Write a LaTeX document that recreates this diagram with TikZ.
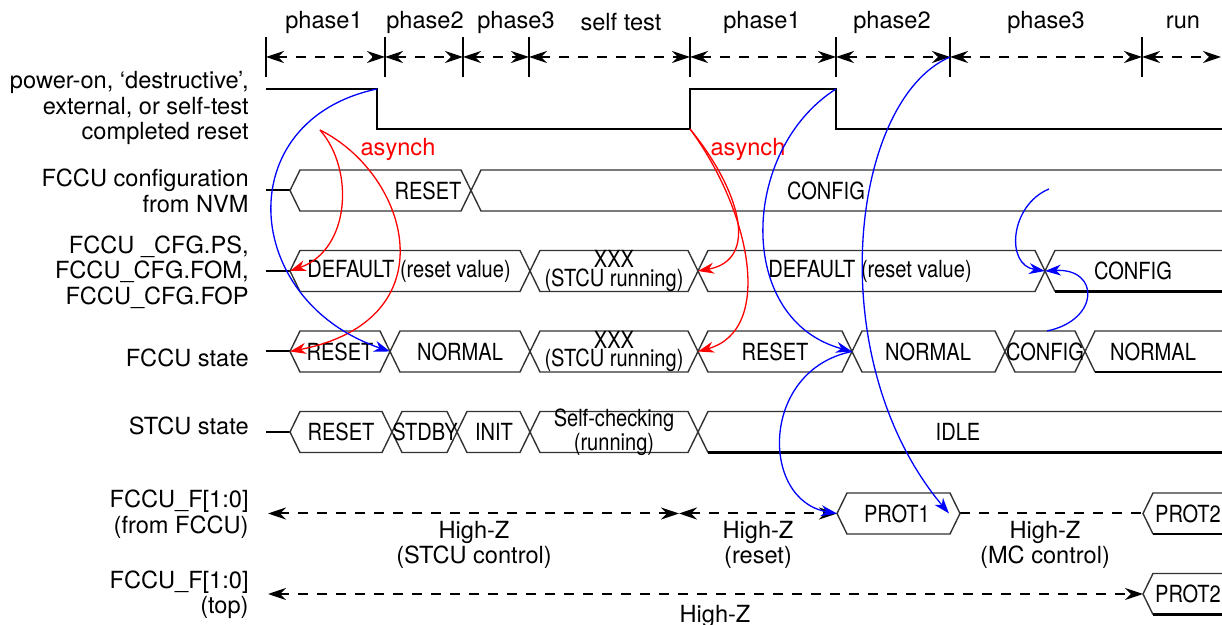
\documentclass[tikz,border=0pt]{standalone}
\usepackage{fontspec}
\setmainfont{TeX Gyre Heros}
\newfontfamily\narrowfont[FakeStretch=0.85]{TeX Gyre Heros}
\usetikzlibrary{arrows.meta,calc}

\begin{document}
\begin{tikzpicture}[x=0.5pt,y=-0.5pt,font=\fontsize{11.8}{12.75}\selectfont]

		\def\hw{10}
		\def\hh{20.5}
		\def\xend{1222}

		\tikzset{line/.style={draw,line width=1pt}}
		\tikzset{sig/.style={draw,line width=1.2pt}}
		\tikzset{bus/.style={draw,black!80,line width=0.7pt}}
		\tikzset{busend/.style={draw,black,line width=1.2pt}}
		\tikzset{dimline/.style={line,dash pattern=on 5pt off 4.5pt}}
		\tikzset{dimarrow/.style={dimline,<->,>={Stealth[length=9pt,width=6pt,inset=3pt]}}}
		\tikzset{hint/.style={draw,line width=0.65pt,-{Stealth[length=8pt,width=5.5pt,inset=2.5pt]}}}
		\tikzset{lbl/.style={anchor=east,align=right,inner sep=0pt}}
		\tikzset{val/.style={font=\narrowfont\fontsize{11.8}{9.2}\selectfont,align=center,inner sep=0pt}}

		\useasboundingbox (0,0) rectangle (1222,625);

		% phase ruler
		\foreach \x [count=\i] in {266,385,463,529,690,836,950,1142}
		{
			\coordinate (t\i) at (\x,57);
			\path[line] (\x,37) -- (\x,77);
		}
		\coordinate (t9) at (1221,57);
		\foreach \a/\b/\c/\txt in {1/2/324/phase1,2/3/425/phase2,3/4/516/phase3,4/5/621/self test,5/6/762/phase1,6/7/892/phase2,7/8/1046/phase3,8/9/1183/run}
		{
			\path[dimarrow] (t\a) -- (t\b);
			\node (ph\a) at (\c,22) {\txt};
		}

		% reset signal
		\coordinate (r0) at (266,89);
		\coordinate (r1) at (377,89);
		\coordinate (r2) at (377,129);
		\coordinate (r3) at (690,129);
		\coordinate (r4) at (690,89);
		\coordinate (r5) at (836,89);
		\coordinate (r6) at (836,129);
		\coordinate (r7) at (\xend,129);
		\path[sig] (r0) -- (r1) -- (r2) -- (r3) -- (r4) -- (r5) -- (r6) -- (r7);

		% row labels
		\node[lbl] (n-rst) at (249,108) {power-on, ‘destructive’,\\external, or self-test\\completed reset};
		\node[lbl] (n-nvm) at (249,191) {FCCU configuration\\from NVM};
		\node[lbl] (n-cfg) at (249,272) {FCCU \_CFG.PS,\\FCCU\_CFG.FOM,\\FCCU\_CFG.FOP};
		\node[lbl] (n-fs) at (249,358) {FCCU state};
		\node[lbl] (n-ss) at (249,426) {STCU state};
		\node[lbl] (n-ff) at (249,514) {FCCU\_F[1:0]\\(from FCCU)};
		\node[lbl] (n-ft) at (249,595) {FCCU\_F[1:0]\\(top)};

		% FCCU configuration from NVM
		\def\y{190.5}
		\path[line] (266,\y) -- (290,\y);
		\foreach \a/\b/\c/\txt [count=\i] in {290/471/428/RESET}
		{
			\coordinate (c\i) at (\a,\y);
			\path[bus] (\a,\y) -- (\a+\hw,\y-\hh) -- (\b-\hw,\y-\hh) -- (\b,\y) -- (\b-\hw,\y+\hh) -- (\a+\hw,\y+\hh) -- cycle;
			\node[val] (cv\i) at (\c,\y) {\txt};
		}
		\coordinate (c2) at (471,\y);
		\path[bus] (\xend,\y-\hh) -- (471+\hw,\y-\hh) -- (c2) -- (471+\hw,\y+\hh) -- (\xend,\y+\hh);
		\node[val] (cv2) at (826,\y) {CONFIG};
		\coordinate (c-src) at (1049,189);

		% FCCU_CFG.PS/FOM/FOP
		\def\y{271}
		\path[line] (266,\y) -- (290,\y);
		\foreach \a/\b/\c/\txt [count=\i] in {290/530/409/{DEFAULT (reset value)},530/698/614/{XXX\\(STCU running)},698/1045/870/{DEFAULT (reset value)}}
		{
			\coordinate (g\i) at (\a,\y);
			\path[bus] (\a,\y) -- (\a+\hw,\y-\hh) -- (\b-\hw,\y-\hh) -- (\b,\y) -- (\b-\hw,\y+\hh) -- (\a+\hw,\y+\hh) -- cycle;
			\node[val] (gv\i) at (\c,\y) {\txt};
		}
		\coordinate (g4) at (1045,\y);
		\path[bus] (\xend,\y-\hh) -- (1045+\hw,\y-\hh) -- (g4) -- (1045+\hw,\y+\hh);
		\path[busend] (1045+\hw,\y+\hh) -- (\xend,\y+\hh);
		\node[val] (gv4) at (1133,\y) {CONFIG};

		% FCCU state
		\def\y{351.5}
		\path[line] (266,\y) -- (290,\y);
		\foreach \a/\b/\c/\txt [count=\i] in {290/390/340/RESET,390/530/460/NORMAL,530/698/614/{XXX\\(STCU running)},698/852/775/RESET,852/1005/928/NORMAL,1005/1085/1045/CONFIG}
		{
			\coordinate (s\i) at (\a,\y);
			\path[bus] (\a,\y) -- (\a+\hw,\y-\hh) -- (\b-\hw,\y-\hh) -- (\b,\y) -- (\b-\hw,\y+\hh) -- (\a+\hw,\y+\hh) -- cycle;
			\node[val] (sv\i) at (\c,\y) {\txt};
		}
		\coordinate (s7) at (1085,\y);
		\path[bus] (\xend,\y-\hh) -- (1085+\hw,\y-\hh) -- (s7) -- (1085+\hw,\y+\hh);
		\path[busend] (1085+\hw,\y+\hh) -- (\xend,\y+\hh);
		\node[val] (sv7) at (1153,\y) {NORMAL};
		\coordinate (s6-top) at (1047,\y-\hh);

		% STCU state
		\def\y{432}
		\path[line] (266,\y) -- (290,\y);
		\foreach \a/\b/\c/\txt [count=\i] in {290/392/341/RESET,392/457/425/STDBY,457/530/494/INIT,530/698/614/{Self-checking\\(running)}}
		{
			\coordinate (u\i) at (\a,\y);
			\path[bus] (\a,\y) -- (\a+\hw,\y-\hh) -- (\b-\hw,\y-\hh) -- (\b,\y) -- (\b-\hw,\y+\hh) -- (\a+\hw,\y+\hh) -- cycle;
			\node[val] (uv\i) at (\c,\y) {\txt};
		}
		\coordinate (u5) at (698,\y);
		\path[bus] (\xend,\y-\hh) -- (698+\hw,\y-\hh) -- (u5) -- (698+\hw,\y+\hh);
		\path[busend] (698+\hw,\y+\hh) -- (\xend,\y+\hh);
		\node[val] (uv5) at (958,\y) {IDLE};

		% FCCU_F[1:0] (from FCCU)
		\def\y{513.5}
		\coordinate (f0) at (268,\y);
		\coordinate (f1) at (679,\y);
		\coordinate (p1-l) at (837,\y);
		\coordinate (p1-r) at (960,\y);
		\coordinate (p1-in) at (949,\y);
		\coordinate (p2-l) at (1143,\y);
		\path[dimarrow] (f0) -- (f1);
		\path[dimarrow] (f1) -- (p1-l);
		\path[dimline] (p1-r) -- (p2-l);
		\path[bus] (p1-l) -- (837+\hw,\y-\hh) -- (960-\hw,\y-\hh) -- (p1-r) -- (960-\hw,\y+\hh) -- (837+\hw,\y+\hh) -- cycle;
		\node[val] (prot1) at (897,\y) {PROT1};
		\path[bus] (\xend,\y-\hh) -- (1143+\hw,\y-\hh) -- (p2-l) -- (1143+\hw,\y+\hh);
		\path[busend] (1143+\hw,\y+\hh) -- (\xend,\y+\hh);
		\node[val] (prot2) at (1188,\y) {PROT2};
		\node[align=center] (hz1) at (474,545) {High-Z\\(STCU control)};
		\node[align=center] (hz2) at (758,545) {High-Z\\(reset)};
		\node[align=center] (hz3) at (1045,545) {High-Z\\(MC control)};

		% FCCU_F[1:0] (top)
		\def\y{594}
		\coordinate (h0) at (268,\y);
		\coordinate (p3-l) at (1143,\y);
		\path[dimarrow] (h0) -- (p3-l);
		\path[bus] (\xend,\y-\hh) -- (1143+\hw,\y-\hh) -- (p3-l) -- (1143+\hw,\y+\hh);
		\path[busend] (1143+\hw,\y+\hh) -- (\xend,\y+\hh);
		\node[val] (prot3) at (1188,\y) {PROT2};
		\node (hz4) at (715,616) {High-Z};

		% asynch reset paths
		\coordinate (a1) at (320,130);
		\node[red] (as1) at (398,149) {asynch};
		\node[red] (as2) at (748,149) {asynch};
		\path[hint,red] (a1) .. controls (355,170) and (350,250) .. (g1);
		\path[hint,red] (a1) .. controls (410,175) and (450,320) .. (s1);
		\path[hint,red] (r3) .. controls (740,190) and (760,260) .. (g3);
		\path[hint,red] (r3) .. controls (750,210) and (775,330) .. (s4);

		% synchronous paths
		\path[hint,blue] (r1) .. controls (230,120) and (240,300) .. (s2);
		\path[hint,blue] (r5) .. controls (740,150) and (735,320) .. (s5);
		\path[hint,blue] (s5) .. controls (760,370) and (760,500) .. (p1-l);
		\path[hint,blue] (t7) .. controls (850,100) and (820,360) .. (p1-in);
		\path[hint,blue] (c-src) .. controls (1010,205) and (1005,265) .. (g4);
		\path[hint,blue] (s6-top) .. controls (1100,320) and (1100,268) .. (g4);

	\end{tikzpicture}
\end{document}
